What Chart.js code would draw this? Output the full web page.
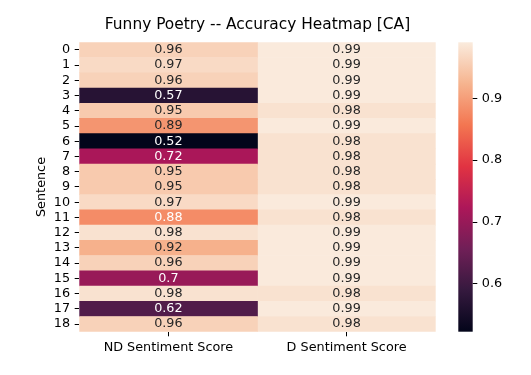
<!DOCTYPE html>
<html>
<head>
<meta charset="utf-8">
<script src="https://cdn.jsdelivr.net/npm/chart.js@4"></script>
<style>
  html, body { margin: 0; padding: 0; background: #fff; }
  #wrap { width: 531px; height: 375px; }
</style>
</head>
<body>
<div id="wrap"><canvas id="heatmap" width="531" height="375"></canvas></div>
<script>
// Heatmap data
const sentences = ['0', '1', '2', '3', '4', '5', '6', '7', '8', '9',
    '10', '11', '12', '13', '14', '15', '16', '17', '18'];
const scoreColumns = ['ND Sentiment Score', 'D Sentiment Score'];
const ndScores = [0.96, 0.97, 0.96, 0.57, 0.95, 0.89, 0.52, 0.72, 0.95, 0.95,
    0.97, 0.88, 0.98, 0.92, 0.96, 0.70, 0.98, 0.62, 0.96];
const dScores = [0.99, 0.99, 0.99, 0.99, 0.98, 0.99, 0.98, 0.98, 0.98, 0.98,
    0.99, 0.98, 0.99, 0.99, 0.99, 0.99, 0.98, 0.99, 0.98];
const colorRange = [0.5215, 0.9908];
const colorbarTicks = [0.6, 0.7, 0.8, 0.9];

// seaborn "rocket" colormap, sampled
const rocketStops = [
    [0.000, [3, 5, 26]],
    [0.143, [53, 25, 62]],
    [0.286, [112, 31, 87]],
    [0.429, [173, 23, 89]],
    [0.571, [225, 51, 66]],
    [0.714, [243, 118, 81]],
    [0.857, [246, 180, 143]],
    [1.000, [250, 235, 221]]
];

function rocket(t) {
    t = Math.min(1, Math.max(0, t));
    for (let i = 1; i < rocketStops.length; i++) {
        const [t1, c1] = rocketStops[i];
        if (t <= t1) {
            const [t0, c0] = rocketStops[i - 1];
            const f = (t - t0) / (t1 - t0);
            return c0.map((c, k) => c + (c1[k] - c) * f);
        }
    }
    return rocketStops[rocketStops.length - 1][1];
}

function cellRgb(v) {
    return rocket((v - colorRange[0]) / (colorRange[1] - colorRange[0]));
}

function css(rgb) {
    return `rgb(${rgb.map(c => Math.round(c)).join(',')})`;
}

// same rule seaborn uses to pick the annotation colour
function textColorFor(rgb) {
    const lin = rgb.map(c => {
        c = c / 255;
        return c <= 0.03928 ? c / 12.92 : Math.pow((c + 0.055) / 1.055, 2.4);
    });
    const lum = 0.2126 * lin[0] + 0.7152 * lin[1] + 0.0722 * lin[2];
    return lum > 0.408 ? '#262626' : '#ffffff';
}

const cellLabels = {
    id: 'cellLabels',
    afterDatasetsDraw(chart) {
        const ctx = chart.ctx;
        ctx.save();
        ctx.font = '12.8px "DejaVu Sans"';
        ctx.textAlign = 'center';
        ctx.textBaseline = 'middle';
        chart.data.datasets.forEach((ds, di) => {
            chart.getDatasetMeta(di).data.forEach((bar, i) => {
                const v = ds.data[i].score;
                const p = bar.getProps(['x', 'y', 'base'], true);
                ctx.fillStyle = textColorFor(cellRgb(v));
                ctx.fillText(String(Number(v.toPrecision(2))), (p.x + p.base) / 2, p.y);
            });
        });
        ctx.restore();
    }
};

const colorbar = {
    id: 'colorbar',
    afterDraw(chart) {
        const scale = chart.scales.cb;
        const ctx = chart.ctx;
        const left = chart.chartArea.right + 22.6;
        const width = 14.4;
        const top = scale.getPixelForValue(colorRange[1]);
        const bottom = scale.getPixelForValue(colorRange[0]);
        const grad = ctx.createLinearGradient(0, bottom, 0, top);
        rocketStops.forEach(([t, rgb]) => grad.addColorStop(t, css(rgb)));
        ctx.save();
        ctx.fillStyle = grad;
        ctx.fillRect(left, top, width, bottom - top);
        ctx.strokeStyle = '#000';
        ctx.lineWidth = 1;
        colorbarTicks.forEach(t => {
            const y = Math.round(scale.getPixelForValue(t)) + 0.5;
            ctx.beginPath();
            ctx.moveTo(left + width, y);
            ctx.lineTo(left + width + 4.6, y);
            ctx.stroke();
        });
        ctx.restore();
    }
};

const datasets = [ndScores, dScores].map((scores, col) => ({
    label: scoreColumns[col],
    data: scores.map((v, i) => ({ y: sentences[i], x: [col, col + 1], score: v })),
    backgroundColor: scores.map(v => css(cellRgb(v))),
    borderWidth: 0,
    borderSkipped: false,
    barPercentage: 1,
    categoryPercentage: 1,
    grouped: false
}));

Chart.defaults.font.family = '"DejaVu Sans"';
Chart.defaults.color = '#000';

new Chart(document.getElementById('heatmap'), {
    type: 'bar',
    data: { labels: sentences, datasets: datasets },
    options: {
        indexAxis: 'y',
        responsive: false,
        animation: false,
        layout: { padding: 0 },
        plugins: {
            legend: { display: false },
            tooltip: { enabled: false },
            title: {
                display: true,
                text: 'Funny Poetry -- Accuracy Heatmap [CA]',
                fullSize: false,
                color: '#000',
                font: { size: 15.4, weight: 'normal' },
                padding: { top: 16.1, bottom: 7.7 }
            }
        },
        scales: {
            x: {
                type: 'linear',
                position: 'bottom',
                min: 0,
                max: 2,
                grid: { drawOnChartArea: false, drawTicks: true, tickLength: 4.6, color: '#000', lineWidth: 1 },
                border: { display: false },
                ticks: {
                    font: { size: 12.8 },
                    color: '#000',
                    padding: 3.3,
                    maxRotation: 0,
                    autoSkip: false,
                    callback: (v, i) => scoreColumns[i]
                },
                afterBuildTicks: s => { s.ticks = scoreColumns.map((c, i) => ({ value: i + 0.5 })); },
                afterFit: s => { s.height = 43.3; }
            },
            y: {
                type: 'category',
                position: 'left',
                grid: { offset: false, drawOnChartArea: false, drawTicks: true, tickLength: 4.6, color: '#000', lineWidth: 1 },
                border: { display: false },
                ticks: { font: { size: 12.8 }, color: '#000', padding: 4.6, autoSkip: false },
                title: {
                    display: true,
                    text: 'Sentence',
                    color: '#000',
                    font: { size: 12.8 },
                    padding: { top: 33.6, bottom: 0 }
                },
                afterFit: s => { s.width = 79.3; }
            },
            cb: {
                type: 'linear',
                axis: 'y',
                position: 'right',
                offset: false,
                min: colorRange[0],
                max: colorRange[1],
                // tick marks are drawn by the colorbar plugin; tickLength only moves the labels
                grid: { display: false, offset: false, drawTicks: true, tickLength: 41.5 },
                border: { display: false },
                ticks: {
                    font: { size: 12.8 },
                    color: '#000',
                    padding: 4.6,
                    callback: v => v.toFixed(1)
                },
                afterBuildTicks: s => { s.ticks = colorbarTicks.map(value => ({ value })); },
                afterFit: s => { s.width = 95.3; }
            }
        }
    },
    plugins: [cellLabels, colorbar]
});
</script>
</body>
</html>
